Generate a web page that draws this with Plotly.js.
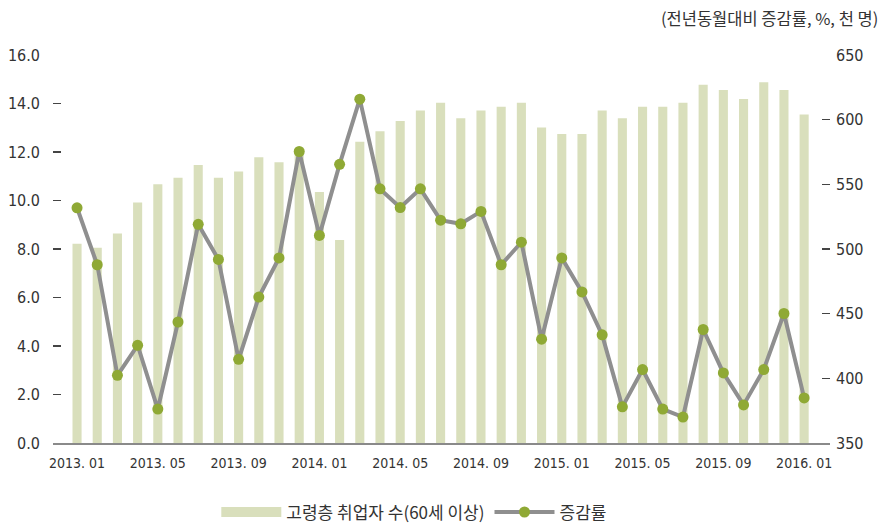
<!DOCTYPE html>
<html>
<head>
<meta charset="utf-8">
<script src="https://cdn.plot.ly/plotly-3.0.1.min.js"></script>
<style>html,body{margin:0;padding:0;background:#fff;}#chart{width:887px;height:524px;}</style>
</head>
<body>
<div id="chart"></div>
<script>
const months = [
  "2013.01","2013.02","2013.03","2013.04","2013.05","2013.06","2013.07","2013.08","2013.09","2013.10","2013.11","2013.12",
  "2014.01","2014.02","2014.03","2014.04","2014.05","2014.06","2014.07","2014.08","2014.09","2014.10","2014.11","2014.12",
  "2015.01","2015.02","2015.03","2015.04","2015.05","2015.06","2015.07","2015.08","2015.09","2015.10","2015.11","2015.12",
  "2016.01"
];
// 고령층 취업자 수(60세 이상), 천 명 (right axis)
const employed = [
  504, 501, 512, 536, 550, 555, 565, 555, 560, 571, 567, 577,
  544, 507, 583, 591, 599, 607, 613, 601, 607, 610, 613, 594,
  589, 589, 607, 601, 610, 610, 613, 627, 623, 616, 629, 623,
  604
];
// 증감률, % (left axis)
const growthRate = [
  9.70, 7.35, 2.79, 4.03, 1.40, 4.99, 9.02, 7.57, 3.45, 6.02, 7.63, 12.02,
  8.56, 11.49, 14.18, 10.48, 9.71, 10.48, 9.19, 9.04, 9.55, 7.35, 8.28, 4.28,
  7.63, 6.23, 4.46, 1.49, 3.03, 1.40, 1.07, 4.68, 2.89, 1.57, 3.03, 5.34,
  1.86
];
const tickMonths = ["2013.01","2013.05","2013.09","2014.01","2014.05","2014.09","2015.01","2015.05","2015.09","2016.01"];
const tickLabels = ["2013. 01","2013. 05","2013. 09","2014. 01","2014. 05","2014. 09","2015. 01","2015. 05","2015. 09","2016. 01"];

const barColor = "#d9dfbc";
const lineColor = "#8f8f8f";
const markerColor = "#8fa935";
const fontFam = "'DejaVu Sans Condensed', 'Noto Sans CJK KR', sans-serif";
const krFam = "'Noto Sans CJK KR', sans-serif";

const traces = [
  {
    type: "bar", x: months, y: employed, xaxis: "x", yaxis: "y",
    marker: {color: barColor}, showlegend: false, name: "고령층 취업자 수(60세 이상)"
  },
  {
    type: "scatter", mode: "lines", x: [null], y: [null], xaxis: "x", yaxis: "y",
    line: {color: barColor, width: 11}, name: "고령층 취업자 수(60세 이상)", showlegend: true
  },
  {
    type: "scatter", mode: "lines+markers", x: months, y: growthRate, xaxis: "x", yaxis: "y2",
    line: {color: lineColor, width: 4}, marker: {color: markerColor, size: 11},
    name: "증감률"
  }
];

const layout = {
  width: 887, height: 524,
  margin: {l: 53, r: 57, t: 55, b: 81, autoexpand: false},
  paper_bgcolor: "#fff", plot_bgcolor: "#fff",
  font: {family: fontFam, size: 15, color: "#333"},
  bargap: 0.55,
  xaxis: {
    type: "category", range: [-1.19, 37.28],
    tickmode: "array", tickvals: tickMonths, ticktext: tickLabels,
    ticks: "", showgrid: false, zeroline: false,
    showline: true, linecolor: "#8a8a8a", linewidth: 2,
    ticklabelstandoff: 6,
    tickfont: {family: fontFam, size: 14, color: "#333"}
  },
  yaxis: {
    side: "right", range: [350, 650], dtick: 50, tick0: 350,
    ticks: "inside", ticklen: 8, tickwidth: 1.2, tickcolor: "#444",
    showgrid: false, zeroline: false, showline: false,
    ticklabelstandoff: 5,
    tickfont: {family: fontFam, size: 16, color: "#333"}
  },
  yaxis2: {
    overlaying: "y", side: "left", range: [0, 16], dtick: 2, tick0: 0,
    tickformat: ".1f",
    ticks: "inside", ticklen: 8, tickwidth: 1.2, tickcolor: "#444",
    showgrid: false, zeroline: false, showline: false,
    ticklabelstandoff: 12,
    tickfont: {family: fontFam, size: 16, color: "#333"}
  },
  legend: {
    orientation: "h", x: 0.465, xanchor: "center", y: -0.179, yanchor: "middle",
    font: {family: krFam, size: 17, color: "#333"}, itemwidth: 60, traceorder: "normal"
  },
  annotations: [{
    text: "(전년동월대비 증감률, %, 천 명)", xref: "paper", yref: "paper",
    x: 1.064, y: 1.095, xanchor: "right", yanchor: "middle", showarrow: false,
    font: {family: krFam, size: 16.5, color: "#333"}
  }]
};

Plotly.newPlot("chart", traces, layout, {displayModeBar: false, staticPlot: true});
</script>
</body>
</html>
